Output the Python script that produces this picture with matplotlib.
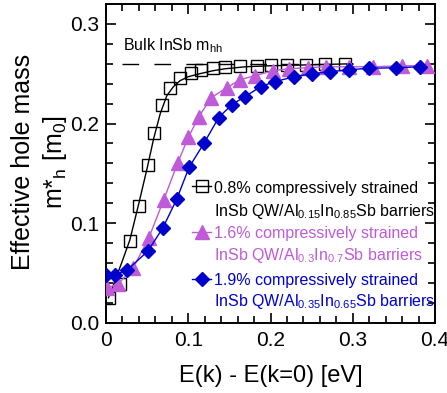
import matplotlib
matplotlib.use("Agg")
import matplotlib.pyplot as plt
from matplotlib.ticker import MultipleLocator, FixedLocator, FixedFormatter
from matplotlib.lines import Line2D

plt.rcParams['font.family'] = ['Liberation Sans', 'DejaVu Sans']
plt.rcParams['mathtext.fontset'] = 'custom'
plt.rcParams['mathtext.rm'] = 'Liberation Sans'
plt.rcParams['mathtext.it'] = 'Liberation Sans:italic'
plt.rcParams['mathtext.bf'] = 'Liberation Sans:bold'

# 0.8% strained QW (Al0.15In0.85Sb barriers)
e_08 = [0.004, 0.017, 0.029, 0.040, 0.051, 0.058, 0.068, 0.078, 0.090, 0.103,
        0.116, 0.130, 0.145, 0.163, 0.183, 0.200, 0.220, 0.243, 0.266, 0.291]
m_08 = [0.025, 0.039, 0.082, 0.117, 0.158, 0.190, 0.219, 0.236, 0.246, 0.251,
        0.254, 0.256, 0.257, 0.258, 0.258, 0.259, 0.259, 0.259, 0.260, 0.260]
# smooth guide curve for the 0.8% data
fit_e_08 = [0.003, 0.010, 0.019, 0.029, 0.040, 0.050, 0.058, 0.066, 0.074, 0.082,
            0.090, 0.100, 0.114, 0.130, 0.145, 0.170, 0.200, 0.250, 0.300]
fit_m_08 = [0.025, 0.040, 0.060, 0.083, 0.120, 0.155, 0.185, 0.210, 0.228, 0.237,
            0.243, 0.247, 0.250, 0.253, 0.255, 0.257, 0.258, 0.259, 0.260]

# 1.6% strained QW (Al0.3In0.7Sb barriers)
e_16 = [0.001, 0.015, 0.033, 0.052, 0.070, 0.087, 0.100, 0.113, 0.128, 0.147,
        0.163, 0.181, 0.203, 0.222, 0.245, 0.268, 0.295, 0.325, 0.360, 0.390]
m_16 = [0.035, 0.039, 0.055, 0.085, 0.123, 0.160, 0.186, 0.207, 0.226, 0.236,
        0.244, 0.248, 0.253, 0.255, 0.256, 0.257, 0.257, 0.257, 0.258, 0.258]

# 1.9% strained QW (Al0.35In0.65Sb barriers)
e_19 = [0.000, 0.011, 0.026, 0.051, 0.069, 0.086, 0.101, 0.119, 0.137, 0.153,
        0.169, 0.188, 0.205, 0.229, 0.250, 0.272, 0.296, 0.320, 0.353, 0.382]
m_19 = [0.048, 0.048, 0.053, 0.072, 0.095, 0.124, 0.156, 0.180, 0.206, 0.219,
        0.227, 0.237, 0.242, 0.247, 0.250, 0.252, 0.254, 0.2555, 0.256, 0.257]

bulk_mhh = 0.26
bulk_range = [0.02, 0.30]

x_ticks = [0.0, 0.1, 0.2, 0.3, 0.4]
x_labels = ["0", "0.1", "0.2", "0.3", "0.4"]
y_ticks = [0.0, 0.1, 0.2, 0.3]
y_labels = ["0.0", "0.1", "0.2", "0.3"]

legend_lines = [
    ("0.8% compressively strained", "InSb QW/Al$_{0.15}$In$_{0.85}$Sb barriers"),
    ("1.6% compressively strained", "InSb QW/Al$_{0.3}$In$_{0.7}$Sb barriers"),
    ("1.9% compressively strained", "InSb QW/Al$_{0.35}$In$_{0.65}$Sb barriers"),
]

BLACK = "black"
PURPLE = "#bf5bd9"
BLUE = "#0000cc"

fig = plt.figure(figsize=(4.47, 3.93), dpi=100)
ax = fig.add_axes([0.2371, 0.1789, 0.7361, 0.8109])

ax.plot(bulk_range, [bulk_mhh, bulk_mhh], color=BLACK, lw=1.0, dashes=(12, 11), zorder=2)
ax.text(0.021, 0.2733, "Bulk InSb m$_\\mathregular{hh}$", fontsize=11.5, ha="left", va="baseline")

ax.plot(fit_e_08, fit_m_08, color=BLACK, lw=1.0, zorder=3)
ax.plot(e_08, m_08, ls="none", marker="s", ms=8.5, mfc="none", mec=BLACK, mew=1.0, zorder=4)
ax.plot(e_16, m_16, color=PURPLE, lw=1.0, marker="^", ms=10, mfc=PURPLE, mec=PURPLE, zorder=5)
ax.plot(e_19, m_19, color=BLUE, lw=1.0, marker="D", ms=7.6, mfc=BLUE, mec=BLUE, zorder=6)

ax.set_xlim(0, 0.4)
ax.set_ylim(0, 0.32)
ax.xaxis.set_major_locator(FixedLocator(x_ticks))
ax.xaxis.set_major_formatter(FixedFormatter(x_labels))
ax.yaxis.set_major_locator(FixedLocator(y_ticks))
ax.yaxis.set_major_formatter(FixedFormatter(y_labels))
ax.xaxis.set_minor_locator(MultipleLocator(0.02))
ax.yaxis.set_minor_locator(MultipleLocator(0.02))
ax.tick_params(which="both", direction="in", top=True, right=True, width=1.2, labelsize=15)
ax.tick_params(which="major", length=7)
ax.tick_params(which="minor", length=5)
ax.tick_params(axis="x", pad=6)
ax.tick_params(axis="y", pad=5)
for s in ax.spines.values():
    s.set_linewidth(1.4)

ax.set_xlabel("E(k) - E(k=0) [eV]", fontsize=17, labelpad=11)
ax.set_ylabel("Effective hole mass\nm*$_\\mathregular{h}$ [m$_\\mathregular{0}$]",
              fontsize=18, linespacing=1.3, va="center", ha="center")
ax.yaxis.set_label_coords(-0.200, 0.505)

# legend drawn by hand: handle beside the first line of each entry
colors = [BLACK, PURPLE, BLUE]
markers = [("s", 8.5, "none"), ("^", 10, PURPLE), ("D", 7.6, BLUE)]
baselines = [(0.408, 0.3334), (0.2653, 0.1974), (0.1173, 0.0527)]
tx = 0.328
for (l1, l2), c, (mk, ms, fc), (b1, b2) in zip(legend_lines, colors, markers, baselines):
    hy = b1 + 0.02
    ax.add_line(Line2D([0.261, 0.318], [hy, hy], transform=ax.transAxes, color=c, lw=1.0,
                       clip_on=False))
    ax.add_line(Line2D([0.292], [hy], transform=ax.transAxes, marker=mk, ms=ms,
                       mfc=fc, mec=c, mew=1.0, ls="none", clip_on=False))
    ax.text(tx, b1, l1, transform=ax.transAxes, color=c, fontsize=11.5, va="baseline", ha="left")
    ax.text(tx, b2, l2, transform=ax.transAxes, color=c, fontsize=11.5, va="baseline", ha="left")

fig.savefig("out.png", dpi=100)
